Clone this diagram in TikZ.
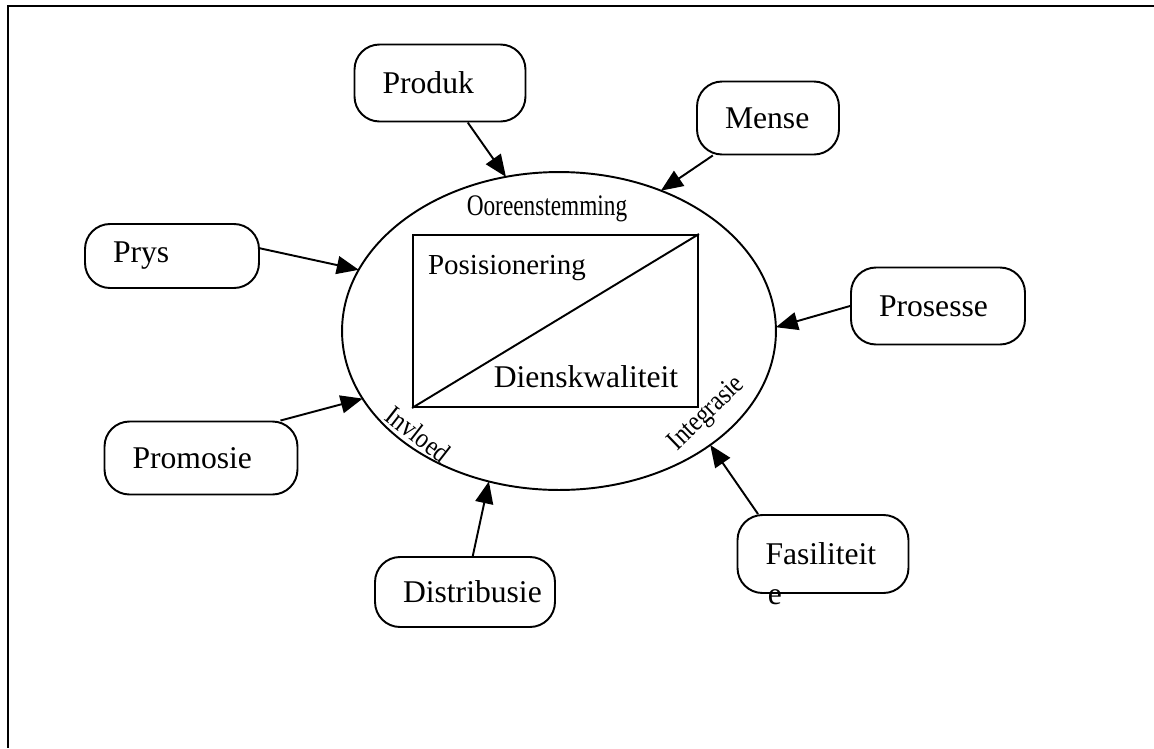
\documentclass[tikz,border=0pt]{standalone}
\usepackage{fontspec}
\setmainfont{Liberation Serif}
\usetikzlibrary{arrows.meta,shapes.geometric}
\tikzset{
  box/.style={draw,rounded corners=0.5cm,align=left,inner xsep=0.56cm,inner ysep=0pt,font=\fontsize{18}{21}\selectfont},
  arr/.style={-{Triangle[length=0.44cm,width=0.36cm]}},
  lbl/.style={inner sep=0pt}
}
\begin{document}
\begin{tikzpicture}[x=0.02cm,y=-0.02cm,line width=1.1pt]
\useasboundingbox (0,0) rectangle (1154,748);
\draw (7,6) -- (1154,6);
\draw (8,6) -- (8,748);

\node[ellipse,draw,minimum width=8.68cm,minimum height=6.36cm,inner sep=0pt,outer sep=0pt] (ell) at (559,331) {};
\node[draw,minimum width=5.7cm,minimum height=3.44cm,inner sep=0pt] (pos) at (555.5,321) {};
\draw (pos.south west) -- (pos.north east);

\node[lbl,font=\fontsize{17}{19}\selectfont,xscale=0.78] (ooreen) at (547,209) {Ooreenstemming};
\node[lbl,font=\fontsize{16.5}{20}\selectfont] (posis) at (507,268) {Posisionering};
\node[lbl,font=\fontsize{18}{21}\selectfont] (diens) at (586,377) {Dienskwaliteit};
\node[lbl,font=\fontsize{16}{18}\selectfont,rotate=-38,xscale=0.85] (invloed) at (418,434) {Invloed};
\node[lbl,font=\fontsize{16}{18}\selectfont,rotate=44,xscale=0.85] (integr) at (707,414) {Integrasie};

\node[box,text width=2.3cm,minimum height=1.54cm] (produk) at (440,83) {Produk};
\node[box,text width=1.72cm,minimum height=1.46cm] (mense) at (768,118) {Mense};
\node[box,text width=2.36cm,minimum height=1.28cm] (prys) at (172,256) {Prys};
\node[box,text width=2.36cm,minimum height=1.54cm] (prosesse) at (938,306) {Prosesse};
\node[box,text width=2.74cm,minimum height=1.46cm] (promosie) at (201,458) {Promosie};
\node[box,text width=2.48cm,minimum height=1.4cm] (distribusie) at (465,592) {Distribusie};
\node[box,text width=2.3cm,minimum height=1.56cm] (fasiliteit) at (823,554) {Fasiliteit};
\node[lbl,font=\fontsize{18}{21}\selectfont,anchor=west] (fasE) at (767,597) {e};

\draw[arr] (produk) -- (ell.109);
\draw[arr] (mense) -- (ell.54);
\draw[arr] (prys.5) -- (ell.163);
\draw[arr] (prosesse.west) -- (ell.1);
\draw[arr] ([xshift=-0.36cm]promosie.north east) -- (ell.199);
\draw[arr] (distribusie) -- (ell.245);
\draw[arr] ([xshift=-1.3cm]fasiliteit.north) -- (ell.323);
\end{tikzpicture}
\end{document}
